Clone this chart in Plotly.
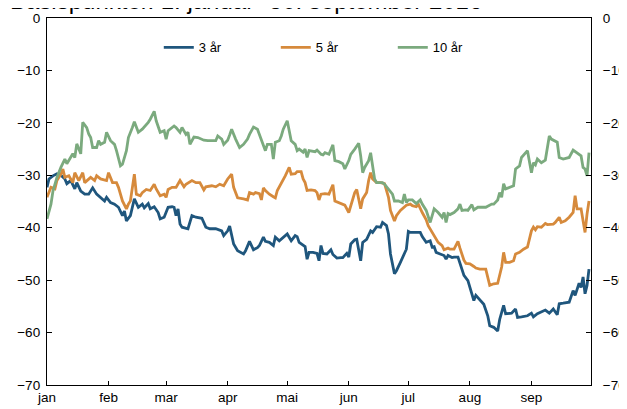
import pandas as pd
import plotly.graph_objects as go

# Dager etter 1. januar 2016 og verdier (basispunkter)
dag_3 = [0, 1, 3, 5, 7, 9, 10, 12, 14, 15, 17, 19, 21, 23, 25, 27, 29, 30, 32, 34, 36, 38, 39, 40, 42, 43, 44, 46, 48, 49,
         51, 52, 54, 56, 57, 59, 61, 63, 64, 65, 66, 67, 68, 71, 72, 73, 75, 78, 80, 82, 85, 88, 89, 91, 92, 93, 94, 96, 99, 100,
         102, 104, 106, 107, 109, 110, 112, 114, 115, 117, 119, 121, 123, 125, 126, 127, 130, 131, 132, 134, 136, 137, 138, 139, 141, 143, 144, 146, 148, 149,
         151, 152, 153, 155, 156, 158, 159, 161, 163, 164, 166, 168, 169, 171, 172, 173, 175, 176, 178, 180, 181, 182, 183, 184, 188, 189, 191, 193, 194, 195,
         196, 198, 200, 201, 202, 204, 205, 207, 208, 210, 212, 213, 214, 215, 216, 218, 220, 222, 223, 225, 227, 228, 230, 231, 234, 236, 237, 239, 242, 244,
         245, 247, 249, 251, 253, 255, 257, 258, 260, 263, 265, 266, 268, 269, 270, 271, 272, 273]
ar_3 = [-32.3, -30.7, -30.1, -29.7, -30.0, -30.7, -31.6, -31.0, -32.6, -31.4, -33.0, -33.6, -33.6, -32.4, -33.6, -34.2, -34.9, -34.2, -35.2, -35.5, -36.1, -37.7, -36.8, -38.7, -37.7, -36.1, -34.5, -36.1, -35.5, -36.2,
        -35.4, -36.4, -36.0, -37.1, -38.3, -38.0, -36.1, -36.0, -36.1, -37.7, -36.4, -39.3, -39.9, -40.2, -38.7, -37.7, -38.0, -38.2, -39.9, -40.2, -40.2, -40.6, -41.5, -40.6, -39.7, -41.5, -43.1, -44.4, -45.0, -44.4,
        -42.6, -44.2, -43.8, -43.4, -41.8, -42.6, -42.8, -43.4, -41.8, -42.5, -41.8, -41.2, -42.5, -41.5, -41.7, -42.8, -43.6, -46.0, -44.7, -44.7, -44.9, -46.3, -43.4, -44.9, -45.0, -44.2, -45.1, -45.8, -45.7, -45.7,
        -44.9, -45.6, -43.1, -42.3, -42.2, -46.3, -42.8, -42.2, -40.6, -40.9, -39.8, -39.9, -39.0, -39.6, -41.2, -45.0, -48.8, -48.2, -46.6, -45.0, -44.1, -40.7, -40.9, -40.9, -40.9, -41.7, -42.8, -42.5, -43.7, -43.6,
        -44.7, -45.0, -45.3, -46.0, -45.3, -45.7, -45.6, -45.6, -46.9, -49.1, -50.1, -51.4, -52.4, -53.9, -52.9, -53.8, -54.6, -56.8, -58.7, -59.0, -59.7, -57.5, -54.8, -56.4, -56.3, -55.5, -57.1, -57.0, -56.8, -56.3,
        -57.0, -56.4, -56.1, -55.7, -56.3, -55.5, -56.6, -54.5, -54.4, -54.2, -52.0, -52.9, -50.6, -51.4, -49.4, -52.6, -51.0, -47.9]

dag_5 = [0, 2, 4, 5, 7, 8, 9, 11, 13, 14, 16, 18, 19, 20, 22, 24, 25, 27, 30, 31, 33, 35, 36, 38, 40, 41, 42, 44, 45, 47,
         48, 50, 52, 54, 55, 57, 59, 60, 61, 63, 65, 67, 69, 70, 73, 75, 77, 79, 80, 83, 85, 87, 89, 91, 93, 94, 96, 99, 101, 102,
         104, 105, 107, 108, 109, 110, 112, 114, 115, 116, 118, 120, 122, 123, 125, 126, 128, 129, 130, 131, 133, 135, 136, 137, 138, 140, 142, 144, 145, 147,
         149, 150, 152, 154, 155, 156, 158, 159, 161, 162, 163, 164, 166, 168, 170, 172, 173, 175, 176, 178, 179, 181, 183, 184, 186, 187, 189, 191, 192, 194,
         195, 197, 199, 200, 202, 203, 205, 207, 208, 210, 211, 213, 215, 216, 218, 220, 221, 223, 225, 227, 229, 230, 231, 233, 235, 236, 238, 240, 242, 244,
         245, 246, 247, 249, 251, 252, 255, 256, 258, 259, 261, 263, 265, 266, 267, 269, 271, 272, 273]
ar_5 = [-34.2, -32.3, -32.6, -31.0, -29.8, -28.8, -30.4, -30.1, -31.4, -29.5, -31.0, -29.5, -31.4, -31.0, -30.4, -31.0, -30.1, -30.7, -31.0, -29.5, -31.4, -31.4, -32.3, -34.9, -36.4, -35.5, -34.9, -29.8, -33.6, -33.9,
        -33.3, -32.7, -32.9, -31.7, -32.6, -33.9, -33.6, -34.2, -32.7, -32.3, -32.3, -31.0, -32.2, -31.7, -31.0, -31.4, -31.4, -32.8, -32.2, -32.0, -32.2, -31.7, -32.0, -30.7, -29.8, -32.3, -34.3, -34.5, -34.7, -33.3,
        -33.6, -33.3, -33.5, -34.7, -32.4, -32.9, -33.6, -34.1, -34.3, -32.9, -31.6, -30.1, -28.5, -29.8, -29.7, -29.3, -29.3, -30.7, -31.4, -32.9, -32.8, -32.9, -33.3, -34.7, -33.6, -33.5, -33.6, -31.8, -34.9, -35.2,
        -35.5, -35.7, -37.1, -34.5, -33.3, -32.7, -36.4, -34.5, -33.3, -31.0, -29.5, -30.7, -31.4, -31.4, -31.6, -34.2, -36.7, -38.7, -37.7, -36.7, -36.4, -35.7, -35.5, -35.8, -36.0, -35.5, -37.1, -38.5, -39.6, -40.9,
        -41.5, -42.8, -43.4, -44.2, -43.9, -44.1, -44.1, -42.6, -43.9, -46.2, -46.8, -46.9, -47.4, -47.7, -47.9, -47.9, -47.9, -51.0, -50.7, -50.6, -47.5, -44.7, -46.6, -46.6, -46.3, -45.0, -44.7, -44.1, -43.7, -40.6,
        -39.9, -40.4, -39.8, -39.9, -39.2, -39.4, -39.3, -39.0, -38.0, -39.0, -38.7, -38.0, -37.1, -33.9, -36.4, -36.4, -40.9, -37.4, -34.9]

dag_10 = [0, 2, 3, 5, 7, 9, 10, 11, 13, 14, 15, 17, 18, 20, 21, 22, 23, 25, 26, 27, 29, 30, 32, 34, 35, 37, 38, 40, 41, 43,
          44, 46, 48, 51, 52, 54, 55, 57, 59, 60, 61, 64, 65, 67, 68, 70, 71, 72, 74, 76, 79, 81, 85, 86, 88, 89, 91, 92, 93, 95,
          97, 99, 101, 102, 104, 106, 108, 110, 111, 113, 114, 115, 117, 118, 119, 121, 122, 123, 125, 126, 127, 129, 130, 131, 132, 135, 136, 138, 139, 140,
          142, 144, 145, 147, 149, 150, 152, 153, 155, 157, 158, 159, 160, 162, 163, 165, 166, 169, 170, 172, 174, 175, 177, 179, 180, 181, 182, 184, 186, 188,
          189, 191, 193, 194, 195, 197, 199, 200, 201, 202, 203, 205, 207, 208, 209, 211, 212, 214, 215, 217, 220, 221, 224, 225, 227, 228, 229, 230, 231, 233,
          235, 236, 238, 239, 241, 242, 244, 245, 246, 247, 249, 251, 253, 254, 257, 258, 260, 263, 265, 267, 269, 270, 271, 272, 273]
ar_10 = [-38.3, -35.5, -33.0, -30.4, -28.5, -26.9, -27.8, -27.2, -25.9, -26.6, -24.0, -25.9, -19.9, -20.9, -22.1, -22.8, -24.7, -24.7, -23.4, -24.1, -23.7, -21.8, -23.4, -24.1, -25.3, -28.2, -27.9, -25.3, -22.8, -20.9,
         -19.8, -21.8, -21.2, -19.9, -19.3, -17.8, -19.6, -21.8, -21.5, -23.1, -21.5, -20.6, -20.9, -21.8, -20.9, -22.2, -21.8, -24.1, -22.7, -22.8, -23.3, -23.4, -23.4, -22.5, -23.1, -24.1, -23.3, -22.3, -21.2, -23.1,
         -24.7, -24.1, -23.1, -22.2, -20.8, -21.2, -23.1, -25.3, -24.1, -24.1, -26.9, -23.7, -23.4, -22.5, -21.2, -19.6, -21.5, -23.4, -24.1, -25.3, -25.0, -25.6, -25.0, -26.6, -25.3, -25.5, -25.2, -26.0, -26.1, -25.7,
         -26.0, -24.2, -27.2, -27.4, -27.8, -28.8, -27.2, -26.0, -25.0, -23.9, -26.3, -29.5, -28.5, -27.2, -25.7, -30.7, -31.4, -31.4, -31.7, -32.6, -33.6, -34.9, -34.9, -35.2, -33.6, -35.2, -34.7, -34.7, -35.4, -34.7,
         -35.5, -36.7, -39.0, -37.7, -36.4, -37.1, -38.0, -37.1, -39.0, -37.3, -37.5, -37.1, -36.4, -35.5, -36.7, -36.6, -36.7, -35.6, -36.6, -36.1, -36.0, -36.1, -35.5, -35.5, -34.7, -33.3, -34.2, -31.6, -32.6, -32.3,
         -32.0, -28.8, -28.2, -26.6, -25.7, -25.3, -29.5, -27.6, -28.0, -26.9, -27.6, -27.1, -22.5, -23.1, -23.7, -26.6, -26.9, -26.6, -25.2, -25.7, -26.3, -28.5, -28.8, -30.1, -25.7]

maaneder = ["jan", "feb", "mar", "apr", "mai", "jun", "jul", "aug", "sep"]
maaned_start = ["2016-01-01", "2016-02-01", "2016-03-01", "2016-04-01", "2016-05-01",
                "2016-06-01", "2016-07-01", "2016-08-01", "2016-09-01"]
y_ticks = [0, -10, -20, -30, -40, -50, -60, -70]

start = pd.Timestamp("2016-01-01")
def to_dates(days):
    return start + pd.to_timedelta(days, unit="D")

FONT = "Liberation Sans, Arial, sans-serif"
farger = {"3 år": "#1F567D", "5 år": "#D68A3C", "10 år": "#7BAA7E"}

fig = go.Figure()
fig.add_trace(go.Scatter(x=to_dates(dag_3), y=ar_3, mode="lines", name="3 år",
                         line=dict(color=farger["3 år"], width=2.8)))
fig.add_trace(go.Scatter(x=to_dates(dag_5), y=ar_5, mode="lines", name="5 år",
                         line=dict(color=farger["5 år"], width=2.8)))
fig.add_trace(go.Scatter(x=to_dates(dag_10), y=ar_10, mode="lines", name="10 år",
                         line=dict(color=farger["10 år"], width=2.8), yaxis="y2"))

axis_common = dict(range=[-70, 0], tickvals=y_ticks, ticks="inside", ticklen=5,
                   tickcolor="black", showline=True, linecolor="black", linewidth=1.3,
                   showgrid=False, zeroline=False, tickfont=dict(family=FONT, size=13.5, color="black"),
                   automargin=False)

# The page body adds an 8 px offset, so margins are set to place the plot area at the reference position
fig.update_layout(
    width=627, height=409,
    margin=dict(l=39, r=44, t=10, b=32, autoexpand=False),
    paper_bgcolor="white", plot_bgcolor="white",
    font=dict(family=FONT, color="black"),
    showlegend=True,
    legend=dict(orientation="h", x=0.2055, xanchor="left", y=0.92, yanchor="middle",
                entrywidth=72, entrywidthmode="pixels", itemwidth=30,
                font=dict(family=FONT, size=13, color="black"), bgcolor="rgba(0,0,0,0)"),
    xaxis=dict(type="date", range=["2016-01-01", "2016-10-01"], tickvals=maaned_start, ticktext=maaneder,
               ticks="inside", ticklen=4, tickcolor="black", showline=True, linecolor="black", linewidth=1.3,
               mirror=True, showgrid=False, zeroline=False, automargin=False,
               tickfont=dict(family=FONT, size=13.5, color="black")),
    yaxis=dict(**axis_common, side="left", ticklabelstandoff=3),
    yaxis2=dict(**axis_common, side="right", overlaying="y", matches="y", ticklabelstandoff=8),
    annotations=[dict(text="Basispunkter. 1. januar- 30. september 2016", xref="paper", yref="paper",
                      x=-0.0717, y=1.0068, xanchor="left", yanchor="bottom", showarrow=False,
                      font=dict(family=FONT, size=24, color="black"))],
)

fig.write_html("out.html")
